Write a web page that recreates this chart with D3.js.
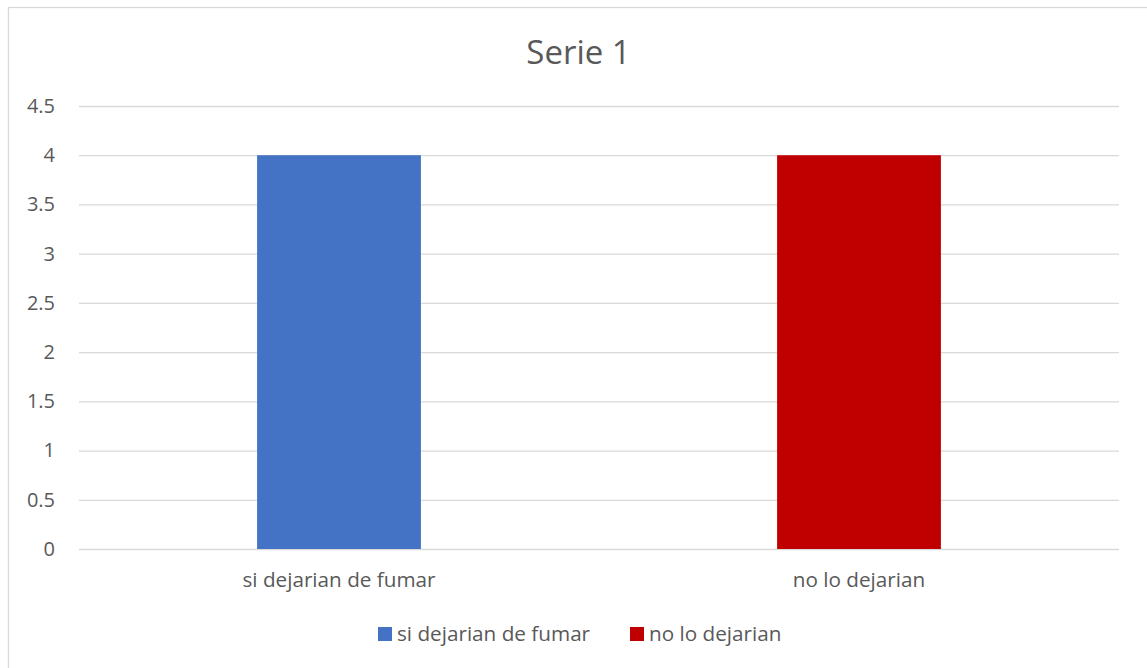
<!DOCTYPE html>
<html>
<head>
<meta charset="utf-8">
<script src="https://cdn.jsdelivr.net/npm/d3@7"></script>
<style>
  body { margin: 0; background: #fff; }
  text { font-family: "Open Sans", "Noto Sans", sans-serif; fill: #595959; }
</style>
</head>
<body>
<svg id="chart"></svg>
<script>
// ---- data ----
var categories = ["si dejarian de fumar", "no lo dejarian"];
var values = [4, 4];
var colors = ["#4472c4", "#c00000"];
var yTicks = [0, 0.5, 1, 1.5, 2, 2.5, 3, 3.5, 4, 4.5];
var title = "Serie 1";

var width = 1147;
var height = 668;
var margin = {top: 106, right: 28, bottom: 119, left: 79};

var svg = d3.select("#chart")
  .attr("width", width)
  .attr("height", height);

// outer frame
svg.append("rect")
  .attr("x", 8.5)
  .attr("y", 7.5)
  .attr("width", width + 10)
  .attr("height", height + 10)
  .attr("fill", "none")
  .attr("stroke", "#d9d9d9")
  .attr("stroke-width", 1.3);

var x = d3.scaleBand()
  .domain(categories)
  .range([margin.left, width - margin.right])
  .padding(0);

var y = d3.scaleLinear()
  .domain([0, 4.5])
  .range([height - margin.bottom, margin.top]);

// gridlines + y labels
var yAxis = svg.append("g")
  .attr("transform", "translate(" + margin.left + ",0)")
  .call(d3.axisLeft(y)
    .tickValues(yTicks)
    .tickSize(-(width - margin.left - margin.right))
    .tickPadding(24)
    .tickFormat(d3.format("")));

yAxis.select(".domain").remove();
yAxis.selectAll("line").attr("stroke", "#d9d9d9").attr("stroke-width", 1.3);
yAxis.selectAll("text")
  .style("font-size", "20px")
  .style("fill", "#595959");

// bars
var barW = x.bandwidth() * 0.315;
svg.selectAll(".bar")
  .data(values)
  .enter()
  .append("rect")
    .classed("bar", true)
    .attr("x", (d, i) => x(categories[i]) + x.bandwidth() / 2 - barW / 2)
    .attr("y", d => y(d))
    .attr("width", barW)
    .attr("height", d => y(0) - y(d))
    .attr("fill", (d, i) => colors[i]);

// category labels
svg.selectAll(".cat")
  .data(categories)
  .enter()
  .append("text")
    .classed("cat", true)
    .attr("x", d => x(d) + x.bandwidth() / 2)
    .attr("y", height - margin.bottom + 38)
    .attr("text-anchor", "middle")
    .style("font-size", "20.7px")
    .text(d => d);

// title
svg.append("text")
  .attr("x", width / 2 + 5)
  .attr("y", 64)
  .attr("text-anchor", "middle")
  .style("font-size", "33px")
  .text(title);

// legend
var legend = svg.append("g")
  .attr("transform", "translate(378,627)");

var offsets = [0, 252];
categories.forEach(function(c, i) {
  var g = legend.append("g").attr("transform", "translate(" + offsets[i] + ",0)");
  g.append("rect")
    .attr("width", 14)
    .attr("height", 14)
    .attr("fill", colors[i]);
  g.append("text")
    .attr("x", 19)
    .attr("y", 14)
    .style("font-size", "20.7px")
    .text(c);
});
</script>
</body>
</html>
